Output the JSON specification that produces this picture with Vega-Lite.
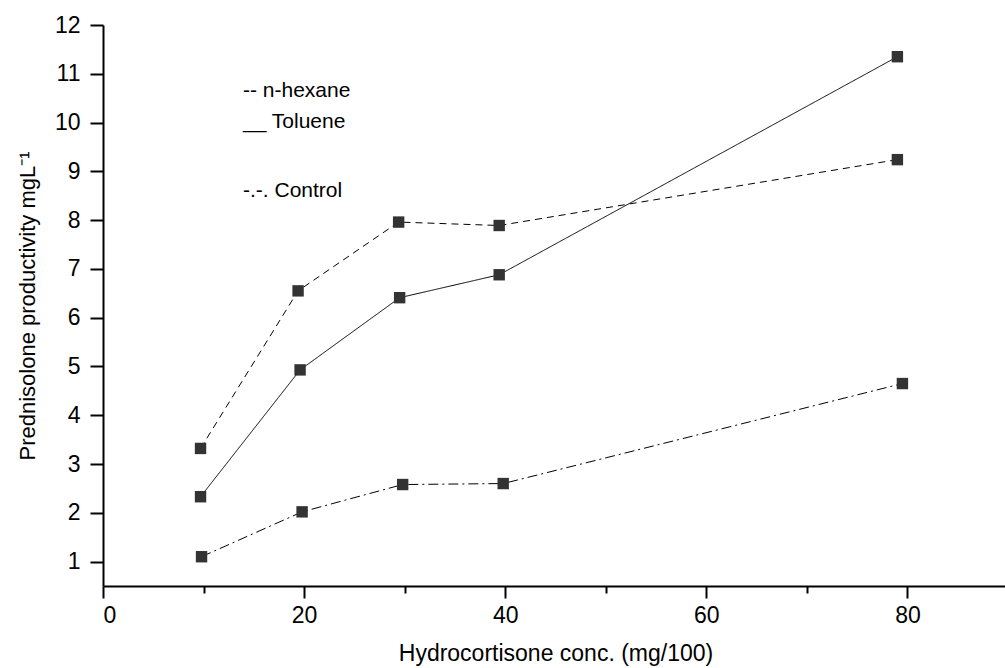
{
  "$schema": "https://vega.github.io/schema/vega-lite/v6.json",
  "width": 905,
  "height": 561,
  "autosize": {"type": "none"},
  "padding": {"left": 103, "top": 25, "right": 0, "bottom": 82},
  "background": "white",
  "config": {
    "view": {"stroke": null},
    "font": "Liberation Sans",
    "axis": {"domainColor": "black", "tickColor": "black", "labelColor": "black", "titleColor": "black", "grid": false, "labelFont": "Liberation Sans", "titleFont": "Liberation Sans", "titleFontWeight": "normal", "domainWidth": 2, "tickWidth": 2}
  },
  "data": {
    "values": [
      {"conc": 9.7, "prod": 3.32, "series": "n-hexane"},
      {"conc": 19.4, "prod": 6.55, "series": "n-hexane"},
      {"conc": 29.4, "prod": 7.96, "series": "n-hexane"},
      {"conc": 39.4, "prod": 7.89, "series": "n-hexane"},
      {"conc": 79.0, "prod": 9.24, "series": "n-hexane"},
      {"conc": 9.7, "prod": 2.33, "series": "Toluene"},
      {"conc": 19.6, "prod": 4.93, "series": "Toluene"},
      {"conc": 29.5, "prod": 6.41, "series": "Toluene"},
      {"conc": 39.4, "prod": 6.88, "series": "Toluene"},
      {"conc": 79.0, "prod": 11.35, "series": "Toluene"},
      {"conc": 9.8, "prod": 1.1, "series": "Control"},
      {"conc": 19.8, "prod": 2.02, "series": "Control"},
      {"conc": 29.8, "prod": 2.58, "series": "Control"},
      {"conc": 39.8, "prod": 2.6, "series": "Control"},
      {"conc": 79.5, "prod": 4.65, "series": "Control"}
    ]
  },
  "layer": [
    {
      "mark": {"type": "line", "color": "black", "strokeWidth": 1},
      "encoding": {
        "x": {
          "field": "conc", "type": "quantitative",
          "scale": {"domain": [0, 90], "nice": false, "zero": false},
          "axis": {
            "values": [0, 10, 20, 30, 40, 50, 60, 70, 80, 90],
            "labelExpr": "datum.value % 20 === 0 && datum.value < 90 ? datum.label : ''",
            "tickSize": {"condition": {"test": "datum.value % 20 === 0", "value": 12}, "value": 7},
            "labelFontSize": 23,
            "labelPadding": 6,
            "title": "Hydrocortisone conc. (mg/100)",
            "titleFontSize": 23,
            "titlePadding": 15
          }
        },
        "y": {
          "field": "prod", "type": "quantitative",
          "scale": {"domain": [0.5, 12], "nice": false, "zero": false},
          "axis": {
            "values": [1, 1.5, 2, 2.5, 3, 3.5, 4, 4.5, 5, 5.5, 6, 6.5, 7, 7.5, 8, 8.5, 9, 9.5, 10, 10.5, 11, 11.5, 12],
            "labelExpr": "datum.value % 1 === 0 ? datum.label : ''",
            "tickSize": {"condition": {"test": "datum.value % 1 === 0", "value": 13}, "value": 7},
            "labelFontSize": 23,
            "labelPadding": 10,
            "title": "Prednisolone productivity mgL⁻¹",
            "titleFontSize": 22,
            "titlePadding": 15
          }
        },
        "strokeDash": {
          "field": "series", "type": "nominal",
          "scale": {"domain": ["n-hexane", "Toluene", "Control"], "range": [[7, 5], [1, 0], [10, 4, 2, 4]]},
          "legend": {
            "orient": "none", "legendX": 119, "legendY": 55,
            "values": ["n-hexane", "Toluene"],
            "title": null,
            "symbolOpacity": 0, "symbolSize": 0, "symbolStrokeWidth": 0,
            "labelExpr": "datum.label === 'n-hexane' ? '-- n-hexane' : '__ Toluene'",
            "labelFontSize": 21, "labelColor": "black", "labelFont": "Liberation Sans",
            "rowPadding": 9, "labelOffset": 0
          }
        }
      }
    },
    {
      "mark": {"type": "point", "filled": true, "color": "#333333", "opacity": 1, "size": 130},
      "encoding": {
        "x": {"field": "conc", "type": "quantitative"},
        "y": {"field": "prod", "type": "quantitative"},
        "shape": {
          "field": "series", "type": "nominal",
          "scale": {"domain": ["Control", "n-hexane", "Toluene"], "range": ["square", "square", "square"]},
          "legend": {
            "orient": "none", "legendX": 119, "legendY": 155,
            "values": ["Control"],
            "title": null,
            "symbolOpacity": 0, "symbolSize": 0, "symbolStrokeWidth": 0, "symbolFillColor": "transparent",
            "labelExpr": "'-.-. Control'",
            "labelFontSize": 21, "labelColor": "black", "labelFont": "Liberation Sans",
            "labelOffset": 0
          }
        }
      }
    }
  ]
}
